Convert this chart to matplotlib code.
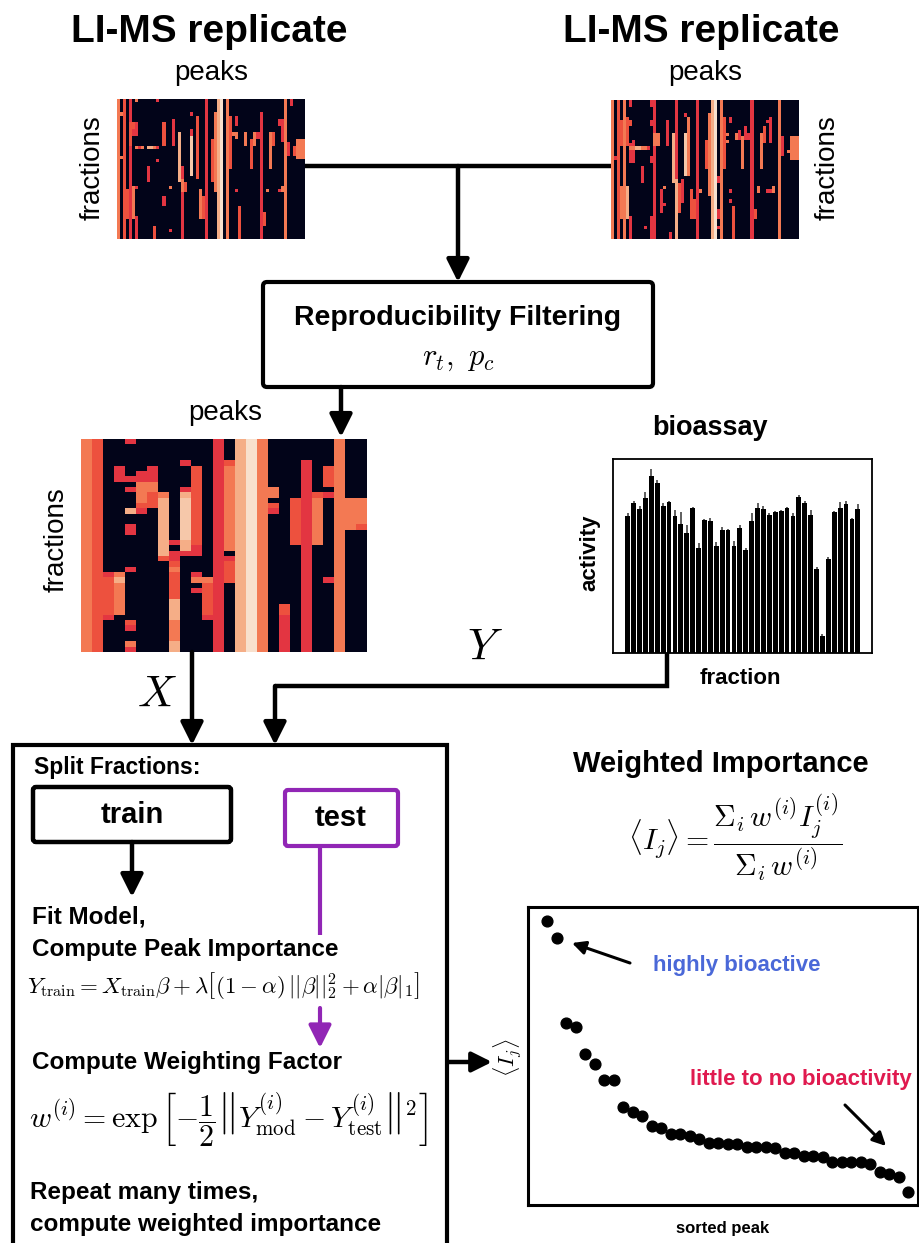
import numpy as np
import matplotlib
matplotlib.use('Agg')
import matplotlib.pyplot as plt
import matplotlib.patches as patches
import seaborn as sns

W, H = 919, 1243
plt.rcParams['font.family'] = ['Liberation Sans', 'DejaVu Sans']
plt.rcParams['mathtext.fontset'] = 'cm'

PURPLE = '#9126b5'
BLUE = '#4a68d8'
RED = '#e01a4f'

# intensity levels used in the heatmap cells (fraction of the rocket colormap)
LEVELS = {1: 0.58, 2: 0.64, 3: 0.72, 4: 0.84, 5: 0.91, 6: 0.97}

# replicate heatmaps: column -> list of (first row, last row, level)
REP_ROWS, REP_COLS = 42, 62
REP1_SEGS = {
    0: [(0, 41, 3)], 1: [(4, 4, 3), (17, 17, 3)], 2: [(0, 41, 2)],
    3: [(27, 35, 2)], 4: [(0, 41, 1), (7, 13, 2)],
    5: [(7, 8, 2), (9, 10, 1), (26, 35, 3)],
    6: [(0, 0, 3), (7, 10, 1), (14, 14, 3), (26, 26, 1), (35, 41, 1)],
    7: [(14, 14, 1)], 8: [(14, 14, 3)], 10: [(14, 14, 4), (20, 24, 1)],
    11: [(14, 14, 4)], 12: [(14, 14, 3), (38, 41, 2)],
    13: [(0, 0, 1), (14, 14, 1), (18, 18, 1)], 15: [(7, 13, 2), (29, 31, 1)],
    17: [(26, 26, 3), (39, 39, 1)], 18: [(6, 13, 1)], 20: [(10, 24, 4)],
    21: [(20, 23, 1), (24, 27, 3), (28, 41, 1)], 22: [(25, 27, 2)],
    24: [(4, 4, 1), (9, 10, 1), (11, 22, 5)], 26: [(5, 23, 2)],
    27: [(27, 35, 3)], 28: [(29, 35, 2)], 29: [(0, 41, 1)], 31: [(12, 24, 2)],
    32: [(4, 27, 3)], 33: [(0, 41, 4)], 34: [(0, 41, 6)], 36: [(0, 41, 3)],
    37: [(5, 20, 2)], 38: [(10, 10, 3)], 39: [(5, 7, 1), (10, 11, 3), (27, 27, 1)],
    40: [(32, 41, 2)], 42: [(10, 13, 3)], 44: [(12, 20, 2)], 45: [(10, 13, 3)],
    46: [(10, 11, 1)], 47: [(4, 41, 1)], 48: [(34, 37, 2)], 49: [(27, 27, 3)],
    50: [(10, 20, 3)], 51: [(10, 13, 2)], 53: [(6, 7, 1), (27, 27, 1)],
    54: [(6, 12, 1), (26, 27, 3)], 55: [(0, 41, 3)], 56: [(13, 16, 1)],
    57: [(0, 1, 1)], 58: [(14, 16, 2)], 59: [(12, 17, 3)], 60: [(12, 17, 3)],
    61: [(12, 17, 3)],
}
REP2_SEGS = {
    0: [(0, 41, 3)], 1: [(17, 17, 1)], 2: [(0, 41, 2)],
    3: [(6, 13, 2), (26, 35, 3)], 4: [(0, 41, 3)], 5: [(5, 13, 2), (26, 35, 4)],
    6: [(0, 1, 1), (6, 7, 2), (13, 18, 1), (14, 14, 3), (35, 41, 1)],
    7: [(12, 18, 1), (14, 14, 3)], 8: [(14, 14, 4)], 9: [(14, 14, 4)],
    10: [(14, 14, 3), (20, 24, 1)], 11: [(14, 14, 3), (38, 38, 1)],
    12: [(14, 14, 1)], 13: [(0, 1, 1), (6, 7, 1), (17, 18, 1), (35, 41, 1)],
    14: [(0, 41, 1), (10, 13, 3)], 15: [(10, 13, 3)], 16: [(27, 33, 1)],
    17: [(26, 26, 3), (31, 31, 1)], 18: [(6, 13, 1)], 19: [(40, 41, 1)],
    20: [(10, 24, 4)], 21: [(0, 23, 1), (24, 41, 4)], 22: [(25, 33, 2)],
    23: [(24, 30, 1)], 24: [(4, 4, 1), (10, 22, 5)], 25: [(5, 22, 3)],
    26: [(27, 35, 2)], 27: [(30, 35, 2)], 28: [(0, 41, 1)], 29: [(27, 27, 3)],
    31: [(12, 20, 2)], 32: [(4, 28, 3)], 33: [(0, 41, 4)], 34: [(0, 41, 6)],
    35: [(23, 24, 1), (33, 35, 1), (38, 38, 1)], 36: [(0, 41, 3)],
    37: [(5, 20, 2)], 38: [(10, 10, 3), (12, 12, 3)],
    39: [(5, 6, 1), (27, 27, 1), (30, 30, 1)], 40: [(32, 41, 2)],
    41: [(10, 11, 3)], 42: [(9, 11, 1)], 43: [(11, 20, 3)], 44: [(8, 11, 1)],
    45: [(10, 11, 1)], 46: [(0, 41, 1)], 47: [(33, 35, 2)], 48: [(26, 27, 3)],
    49: [(10, 20, 3)], 50: [(8, 12, 2)], 51: [(6, 6, 1), (27, 27, 1)],
    52: [(5, 12, 1), (27, 27, 1)], 53: [(26, 27, 3)], 55: [(0, 41, 3)],
    56: [(11, 16, 1)], 58: [(15, 15, 3)], 59: [(11, 17, 3)], 60: [(11, 17, 3)],
    61: [(11, 17, 3)],
}

# filtered heatmap
FILT_ROWS, FILT_COLS = 40, 26
FILT_SEGS = {
    0: [(0, 39, 3)], 1: [(0, 39, 2)],
    2: [(25, 25, 1), (26, 32, 2), (33, 33, 1)],
    3: [(5, 7, 1), (25, 25, 3), (26, 26, 4), (27, 32, 3)],
    4: [(0, 0, 1), (7, 7, 1), (9, 9, 1), (13, 13, 4), (16, 17, 1), (24, 24, 1),
        (34, 34, 2), (35, 35, 1), (38, 38, 3), (39, 39, 1)],
    5: [(6, 7, 1), (8, 11, 3), (12, 12, 2), (13, 13, 1)],
    6: [(5, 7, 1), (8, 9, 3), (10, 12, 2)],
    7: [(10, 10, 3), (11, 21, 4), (22, 22, 2)],
    8: [(19, 19, 1), (21, 22, 1), (23, 23, 2), (24, 24, 3), (25, 29, 2),
        (30, 33, 4), (34, 37, 3), (38, 39, 4)],
    9: [(4, 4, 1), (9, 9, 1), (10, 10, 4), (11, 18, 5), (19, 20, 4), (21, 21, 1)],
    10: [(5, 19, 2), (20, 21, 1), (25, 25, 1), (26, 26, 3), (28, 28, 1)],
    11: [(26, 26, 3), (27, 32, 2), (33, 33, 1)],
    12: [(0, 39, 1)],
    13: [(4, 4, 2), (5, 20, 3), (22, 22, 1), (23, 26, 2)],
    14: [(0, 39, 4)], 15: [(0, 39, 6)], 16: [(0, 39, 3)],
    17: [(9, 10, 3), (12, 12, 2), (13, 13, 1)],
    18: [(31, 32, 2), (33, 39, 1)], 19: [(11, 19, 2)], 20: [(4, 39, 1)],
    21: [(10, 10, 2), (11, 19, 3)], 22: [(5, 8, 2), (10, 10, 1), (26, 26, 1)],
    23: [(0, 39, 3)], 24: [(11, 16, 3)], 25: [(11, 15, 3), (16, 16, 2)],
}

# bioassay activity per fraction and upper error
ACTIVITY = [0.707, 0.775, 0.741, 0.797, 0.911, 0.877, 0.758, 0.779, 0.707, 0.664,
            0.618, 0.750, 0.540, 0.687, 0.681, 0.554, 0.635, 0.635, 0.554, 0.644,
            0.533, 0.681, 0.746, 0.741, 0.712, 0.727, 0.733, 0.748, 0.707, 0.804,
            0.772, 0.712, 0.431, 0.089, 0.482, 0.729, 0.748, 0.767, 0.693, 0.741]
ACTIVITY_ERR = [0.014, 0.009, 0.017, 0.032, 0.037, 0.017, 0.017, 0.005, 0.029, 0.065,
                0.041, 0.005, 0.026, 0.005, 0.014, 0.017, 0.012, 0.005, 0.022, 0.015,
                0.007, 0.039, 0.029, 0.017, 0.009, 0.005, 0.003, 0.004, 0.014, 0.009,
                0.012, 0.027, 0.012, 0.009, 0.012, 0.004, 0.031, 0.017, 0.003, 0.026]

# sorted weighted importance
IMPORTANCE = [0.952, 0.896, 0.612, 0.598, 0.506, 0.474, 0.421, 0.418, 0.328, 0.311,
              0.297, 0.264, 0.257, 0.238, 0.238, 0.233, 0.221, 0.207, 0.207, 0.206,
              0.204, 0.196, 0.196, 0.193, 0.191, 0.174, 0.174, 0.165, 0.165, 0.162,
              0.145, 0.143, 0.143, 0.143, 0.137, 0.112, 0.103, 0.094, 0.042]


def build_matrix(segs, nrows, ncols):
    m = np.zeros((nrows, ncols))
    for col, parts in segs.items():
        for r0, r1, lv in parts:
            m[r0:r1 + 1, col] = LEVELS[lv]
    return m


def px_axes(fig, x0, y0, x1, y1):
    return fig.add_axes([x0 / W, 1 - y1 / H, (x1 - x0) / W, (y1 - y0) / H])


def heatmap(fig, segs, nrows, ncols, box):
    ax = px_axes(fig, *box)
    ax.imshow(build_matrix(segs, nrows, ncols), cmap=rocket, vmin=0, vmax=1,
              aspect='auto', interpolation='nearest')
    ax.axis('off')
    return ax


def arrow(ax, x0, y0, x1, y1, color='k', lw=3.2, ms=34):
    ax.annotate('', xy=(x1, y1), xytext=(x0, y0),
                arrowprops=dict(arrowstyle='-|>', color=color, lw=lw,
                                mutation_scale=ms, shrinkA=0, shrinkB=0))


def line(ax, xs, ys, color='k', lw=3.2):
    ax.plot(xs, ys, color=color, lw=lw, solid_capstyle='butt',
            solid_joinstyle='miter')


rocket = sns.color_palette('rocket', as_cmap=True)
fig = plt.figure(figsize=(W / 100, H / 100), dpi=100)

heatmap(fig, REP1_SEGS, REP_ROWS, REP_COLS, (117, 99, 305, 239))
heatmap(fig, REP2_SEGS, REP_ROWS, REP_COLS, (611, 100, 799, 239))
heatmap(fig, FILT_SEGS, FILT_ROWS, FILT_COLS, (81, 439, 367, 652))

# bioassay bar chart
bx = px_axes(fig, 613, 459, 872, 653)
idx = np.arange(len(ACTIVITY))
bx.bar(idx, ACTIVITY, width=0.8, color='black')
bx.errorbar(idx, ACTIVITY, yerr=[np.zeros(len(ACTIVITY)), ACTIVITY_ERR],
            fmt='none', ecolor='#444444', elinewidth=1.2, capsize=0)
bx.set_xlim(-2.5, len(ACTIVITY) + 1.4)
bx.set_ylim(0, 1)
bx.set_xticks([])
bx.set_yticks([])
for s in bx.spines.values():
    s.set_linewidth(1.3)

# sorted importance scatter
sx = px_axes(fig, 528, 907, 918, 1205)
sx.scatter(np.arange(len(IMPORTANCE)), IMPORTANCE, s=60, color='black', zorder=3)
sx.set_xlim(-2, len(IMPORTANCE))
sx.set_ylim(0, 1)
sx.set_xticks([])
sx.set_yticks([])
for s in sx.spines.values():
    s.set_linewidth(2.2)

# overlay in pixel coordinates for text, boxes and arrows
ov = fig.add_axes([0, 0, 1, 1])
ov.set_xlim(0, W)
ov.set_ylim(H, 0)
ov.axis('off')
ov.patch.set_visible(False)

bold = dict(fontweight='bold', ha='center', va='center')
ov.text(209, 32, 'LI-MS replicate', fontsize=28, **bold)
ov.text(701, 32, 'LI-MS replicate', fontsize=28, **bold)
ov.text(211, 73, 'peaks', fontsize=20, ha='center', va='center')
ov.text(705, 73, 'peaks', fontsize=20, ha='center', va='center')
ov.text(93, 168, 'fractions', fontsize=20, rotation=90, ha='center', va='center')
ov.text(828, 168, 'fractions', fontsize=20, rotation=90, ha='center', va='center')
ov.text(225, 413, 'peaks', fontsize=20, ha='center', va='center')
ov.text(57, 540, 'fractions', fontsize=20, rotation=90, ha='center', va='center')

# reproducibility box
ov.add_patch(patches.FancyBboxPatch((263, 282), 390, 105,
                                    boxstyle='round,pad=0,rounding_size=4',
                                    fc='white', ec='black', lw=3))
ov.text(458, 318, 'Reproducibility Filtering', fontsize=20.5, **bold)
ov.text(458, 358, r'$r_t,\ p_c$', fontsize=22, ha='center', va='center')

line(ov, [305, 611], [166, 166])
arrow(ov, 458, 166, 458, 282)
arrow(ov, 341, 387, 341, 437)

# bioassay labels
ov.text(710, 428, 'bioassay', fontsize=19.5, **bold)
ov.text(590, 553, 'activity', fontsize=16, rotation=90, **bold)
ov.text(740, 678, 'fraction', fontsize=16, **bold)
ov.text(485, 648, r'$Y$', fontsize=32, ha='center', va='center')
ov.text(157, 695, r'$X$', fontsize=32, ha='center', va='center')

arrow(ov, 192, 652, 192, 745)
line(ov, [667, 667, 275], [653, 686, 686])
arrow(ov, 275, 686, 275, 745)

# big workflow box (open at the bottom)
line(ov, [13, 13, 447, 447], [1260, 745, 745, 1260], lw=3)
ov.text(34, 767, 'Split Fractions:', fontsize=16.5, fontweight='bold',
        ha='left', va='center')
ov.add_patch(patches.FancyBboxPatch((33, 787), 198, 55,
                                    boxstyle='round,pad=0,rounding_size=3',
                                    fc='white', ec='black', lw=3.2))
ov.text(132, 815, 'train', fontsize=21, **bold)
ov.add_patch(patches.FancyBboxPatch((285, 790), 113, 56,
                                    boxstyle='round,pad=0,rounding_size=3',
                                    fc='white', ec=PURPLE, lw=3))
ov.text(341, 818, 'test', fontsize=21, **bold)

arrow(ov, 132, 842, 132, 897)
line(ov, [320, 320], [846, 935], color=PURPLE, lw=3)
arrow(ov, 320, 1008, 320, 1048, color=PURPLE, lw=3)

left = dict(fontweight='bold', ha='left', va='center', fontsize=17.5)
ov.text(32, 917, 'Fit Model,', **left)
ov.text(32, 949, 'Compute Peak Importance', **left)
ov.text(27, 985, r'$Y_{\rm train} = X_{\rm train}\beta + \lambda\left[(1-\alpha)\,'
        r'||\beta||_2^2 + \alpha|\beta|_1\right]$',
        fontsize=16.5, ha='left', va='center')
ov.text(32, 1063, 'Compute Weighting Factor', **left)
ov.text(29, 1120, r'$w^{(i)} = \exp\left[-\dfrac{1}{2}\left\|Y^{(i)}_{\rm mod}'
        r' - Y^{(i)}_{\rm test}\right\|^2\right]$',
        fontsize=21.5, ha='left', va='center')
ov.text(30, 1193, 'Repeat many times,', **left)
ov.text(30, 1225, 'compute weighted importance', **left)

# weighted importance
ov.text(721, 764, 'Weighted Importance', fontsize=21, **bold)
ov.text(735, 838, r'$\langle I_j\rangle = \dfrac{\Sigma_i\, w^{(i)} I_j^{(i)}}'
        r'{\Sigma_i\, w^{(i)}}$',
        fontsize=21.5, ha='center', va='center')
arrow(ov, 449, 1062, 492, 1062, ms=30)
ov.text(508, 1058, r'$\langle I_j\rangle$', fontsize=16, rotation=90,
        ha='center', va='center')
ov.text(723, 1228, 'sorted peak', fontsize=12, **bold)

ov.text(653, 965, 'highly bioactive', fontsize=16, color=BLUE,
        fontweight='bold', ha='left', va='center')
arrow(ov, 630, 963, 572, 943, lw=2.2, ms=20)
ov.text(690, 1079, 'little to no bioactivity', fontsize=16, color=RED,
        fontweight='bold', ha='left', va='center')
arrow(ov, 845, 1105, 886, 1146, lw=2.2, ms=20)

fig.savefig('out.png', dpi=100)
